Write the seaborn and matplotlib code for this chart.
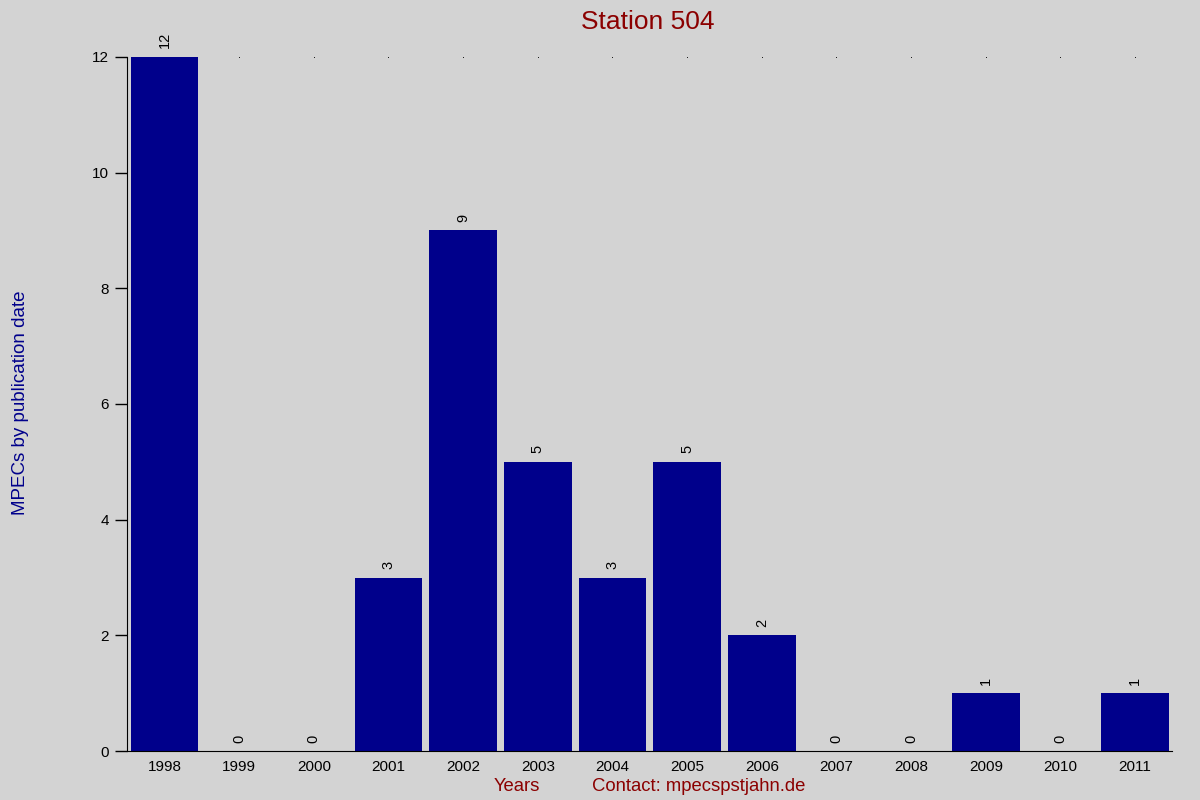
import pandas as pd
import seaborn as sns
import matplotlib.pyplot as plt

# MPECs per year for station 504
years = ["1998", "1999", "2000", "2001", "2002", "2003", "2004",
         "2005", "2006", "2007", "2008", "2009", "2010", "2011"]
counts = [12, 0, 0, 3, 9, 5, 3, 5, 2, 0, 0, 1, 0, 1]
y_ticks = [0, 2, 4, 6, 8, 10, 12]

df = pd.DataFrame({"year": years, "count": counts})

sns.set_style("white")
plt.rcParams['font.family'] = ['Liberation Sans', 'DejaVu Sans']

bg = "#d3d3d3"
fig = plt.figure(figsize=(12, 8), dpi=100, facecolor=bg)
ax = fig.add_axes([0.106, 0.061, 0.871, 0.868])
ax.set_facecolor(bg)

sns.barplot(data=df, x="year", y="count", color="#00008b", width=0.91,
            saturation=1, linewidth=0, edgecolor="none", ax=ax)

# value labels, rotated
for i, v in enumerate(counts):
    ax.text(i, v + 0.15, str(v), rotation=90, ha="center", va="bottom",
            fontsize=10.5, color="black")

# tiny dots along the top
ax.scatter(range(len(years)), [y_ticks[-1]] * len(years), s=0.4,
           color="black", zorder=0, clip_on=False, linewidths=0)

ax.set_xlim(-0.5, len(years) - 0.5)
ax.set_ylim(0, 12)
ax.set_yticks(y_ticks)
ax.tick_params(axis="y", left=True, direction="out", length=9, width=1,
               color="black", labelsize=11, pad=4)
ax.tick_params(axis="x", bottom=False, length=0, labelsize=11, pad=6)
for t in ax.get_xticklabels() + ax.get_yticklabels():
    t.set_color("black")

for s in ["top", "right"]:
    ax.spines[s].set_visible(False)
ax.spines["left"].set_color("black")
ax.spines["bottom"].set_color("black")
ax.spines["left"].set_bounds(0, 12)

ax.set_xlabel("")
ax.set_ylabel("")
fig.text(0.54, 0.988, "Station 504", ha="center", va="top", fontsize=19,
         color="#8b0000")
fig.text(0.01, 0.496, "MPECs by publication date", rotation=90, ha="left",
         va="center", fontsize=13.5, color="#00008b")
fig.text(0.431, 0.017, "Years", ha="center", va="center", fontsize=13.3,
         color="#8b0000")
fig.text(0.582, 0.017, "Contact: mpecspstjahn.de", ha="center", va="center",
         fontsize=13.3, color="#8b0000")

fig.savefig("out.png", dpi=100, facecolor=bg)
